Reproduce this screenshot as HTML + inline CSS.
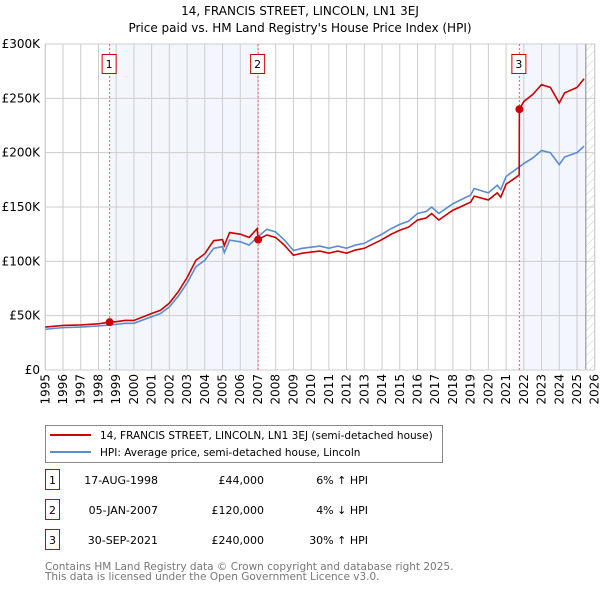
<!DOCTYPE html>
<html><head><meta charset="utf-8"><style>
body{margin:0;background:#fff;font-family:"DejaVu Sans","Liberation Sans",sans-serif;}
svg text{font-family:"DejaVu Sans","Liberation Sans",sans-serif;}
</style></head><body>
<svg id="c" width="600" height="590" xmlns="http://www.w3.org/2000/svg">
<defs><pattern id="hatch" width="6" height="6" patternUnits="userSpaceOnUse" patternTransform="rotate(45)"><line x1="0" y1="0" x2="0" y2="6" stroke="#ccc" stroke-width="1"/></pattern></defs>
<text x="300" y="15" text-anchor="middle" font-size="12">14, FRANCIS STREET, LINCOLN, LN1 3EJ</text>
<text x="300" y="32" text-anchor="middle" font-size="12">Price paid vs. HM Land Registry's House Price Index (HPI)</text>
<g id="plot"></g>
<g>
<rect x="45.5" y="425.5" width="397" height="37" fill="#fff" stroke="#888"/>
<line x1="50" y1="435" x2="91" y2="435" stroke="#cc0000" stroke-width="2"/>
<text x="100" y="439" font-size="10.5">14, FRANCIS STREET, LINCOLN, LN1 3EJ (semi-detached house)</text>
<line x1="50" y1="452" x2="91" y2="452" stroke="#5b8bd0" stroke-width="2"/>
<text x="100" y="456" font-size="10.5">HPI: Average price, semi-detached house, Lincoln</text>
</g>
<g id="table" font-size="11"></g>
<text x="45" y="570" font-size="10.5" fill="#777">Contains HM Land Registry data © Crown copyright and database right 2025.</text>
<text x="45" y="580" font-size="10.5" fill="#777">This data is licensed under the Open Government Licence v3.0.</text>
</svg>
<script>
const yTicks=[0,50,100,150,200,250,300];
const yTickLabels=["£0","£50K","£100K","£150K","£200K","£250K","£300K"];
const xYears=[1995,1996,1997,1998,1999,2000,2001,2002,2003,2004,2005,2006,2007,2008,2009,2010,2011,2012,2013,2014,2015,2016,2017,2018,2019,2020,2021,2022,2023,2024,2025,2026];
const hpiDates=[1995,1996,1997,1998,1998.6,1999,1999.5,2000,2000.5,2001,2001.5,2002,2002.5,2003,2003.5,2004,2004.5,2005,2005.1,2005.4,2006,2006.5,2007,2007.5,2008,2008.5,2009,2009.5,2010,2010.5,2011,2011.5,2012,2012.5,2013,2013.5,2014,2014.5,2015,2015.5,2016,2016.5,2016.8,2017.2,2018,2018.5,2019,2019.2,2020,2020.5,2020.7,2021,2021.5,2021.75,2022,2022.5,2023,2023.5,2024,2024.3,2025,2025.4];
const hpiValues=[37.5,39,39.5,40.5,41.5,42,43,43,46,49,52,58,68,80,95,101,112,113.5,108,119.5,118,115,122.7,129.5,127,119.5,110,112,113,114,112,114,112,115,116.6,121,125,130,134,137,144,146,150,144,153,157,161,167,163,170,166,178,184,187,190,195,202,200,189,196,200,206];
const priceDates=[1995,1996,1997,1998,1998.6,1999,1999.5,2000,2000.5,2001,2001.5,2002,2002.5,2003,2003.5,2004,2004.5,2005,2005.1,2005.4,2006,2006.5,2006.95,2007.01,2007.5,2008,2008.5,2009,2009.5,2010,2010.5,2011,2011.5,2012,2012.5,2013,2013.5,2014,2014.5,2015,2015.5,2016,2016.5,2016.8,2017.2,2018,2018.5,2019,2019.2,2020,2020.5,2020.7,2021,2021.5,2021.74,2021.75,2022,2022.5,2023,2023.5,2024,2024.3,2025,2025.4];
const priceValues=[39.5,41,41.5,42.5,44,44.5,45.6,45.6,48.8,52,55,61.5,72,85,101,107,119,120,114.5,126.5,125,122,130,120,124.3,122,114.7,105.6,107.5,108.5,109.4,107.5,109.4,107.5,110.4,112,116,120,124.8,128.6,131.5,138,140,144,138,147,150.7,154.5,160,156.5,163,159,171,176.6,179.5,240,247,253.5,262.6,260,245.7,255,260,268];
const saleDates=[1998.63,2007.01,2021.75];
const saleValues=[44,120,240];
const saleLabels=["1","2","3"];
const saleDateText=["17-AUG-1998","05-JAN-2007","30-SEP-2021"];
const salePriceText=["£44,000","£120,000","£240,000"];
const saleHpiText=["6% ↑ HPI","4% ↓ HPI","30% ↑ HPI"];

const X0=45.3,X1=594.7,Y0=370,Y1=44;
const xs=t=>X0+(t-1995)/(2026-1995)*(X1-X0);
const ys=v=>Y0-v/300*(Y0-Y1);
const NS="http://www.w3.org/2000/svg";
const plot=document.getElementById('plot');
function mk(tag,attrs,parent){const e=document.createElementNS(NS,tag);for(const k in attrs)e.setAttribute(k,attrs[k]);(parent||plot).appendChild(e);return e;}
let r;
r=mk('rect',{x:xs(saleDates[0]),y:Y1,width:xs(saleDates[1])-xs(saleDates[0]),height:Y0-Y1,fill:'#eef3fc',opacity:0.7});


r=mk('rect',{x:xs(saleDates[2]),y:Y1,width:xs(2025.5)-xs(saleDates[2]),height:Y0-Y1,fill:'#eef3fc',opacity:0.7});


r=mk('rect',{x:xs(2025.5),y:Y1,width:X1-xs(2025.5),height:Y0-Y1,fill:'url(#hatch)'});


yTicks.forEach((v,i)=>{
  const l=mk('line',{x1:X0,x2:X1,y1:ys(v),y2:ys(v),stroke:'#ccc'});
  
  
  const t=mk('text',{x:40,y:ys(v)+4,'text-anchor':'end','font-size':12});
  t.textContent=yTickLabels[i];
  
  
});
xYears.forEach(y=>{
  const l=mk('line',{x1:xs(y),x2:xs(y),y1:Y1,y2:Y0,stroke:'#ccc'});
  
  
  const t=mk('text',{x:0,y:0,'text-anchor':'end','font-size':12,transform:`translate(${xs(y)+4},374) rotate(-90)`});
  t.textContent=y;
  
  
});
r=mk('line',{x1:xs(2025.5),x2:xs(2025.5),y1:Y1,y2:Y0,stroke:'#888'});


r=mk('rect',{x:X0,y:Y1,width:X1-X0,height:Y0-Y1,fill:'none',stroke:'#ccc'});


saleDates.forEach((d,i)=>{
  const l=mk('line',{x1:xs(d),x2:xs(d),y1:Y1,y2:Y0,stroke:'#e86060','stroke-dasharray':'2,2'});
  
  
  const b=mk('rect',{x:xs(d)-7.5,y:54.5,width:14,height:19,fill:'#fff',stroke:'#cc0000'});
  
  
  const t=mk('text',{x:xs(d)-0.5,y:68,'text-anchor':'middle','font-size':11});
  t.textContent=saleLabels[i];
  
  
});
const hp=mk('polyline',{points:hpiDates.map((d,i)=>xs(d)+','+ys(hpiValues[i])).join(' '),fill:'none',stroke:'#5b8bd0','stroke-width':1.6});


const pp=mk('polyline',{points:priceDates.map((d,i)=>xs(d)+','+ys(priceValues[i])).join(' '),fill:'none',stroke:'#cc0000','stroke-width':1.6});


saleDates.forEach((d,i)=>{
  const c=mk('circle',{cx:xs(d),cy:ys(saleValues[i]),r:4,fill:'#cc0000'});
  
  
});
const tb=document.getElementById('table');
saleLabels.forEach((lab,i)=>{
  const y=483+i*30;
  const b=mk('rect',{x:45.5,y:y-13.5,width:14,height:20,fill:'#fff',stroke:'#cc0000'},tb);
  
  
  const cols=[[52.5,lab,'middle','table-row-number'],[158,saleDateText[i],'end','table-row-date'],[264,salePriceText[i],'end','table-row-price'],[368,saleHpiText[i],'end','table-row-hpi']];
  cols.forEach(c=>{
    const t=mk('text',{x:c[0],y:y+1,'text-anchor':c[2]},tb);
    t.textContent=c[1];
    
    
  });
});
</script>
</body></html>
